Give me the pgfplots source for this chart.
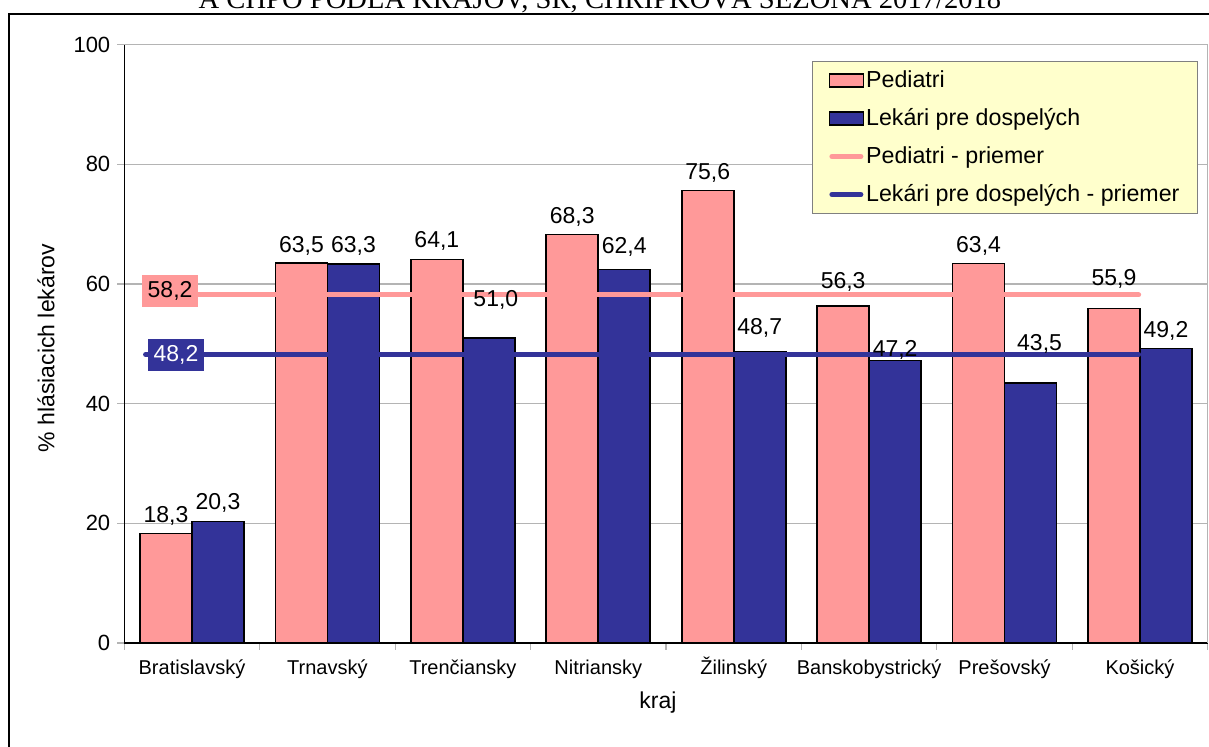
\documentclass[border=0pt]{standalone}
\usepackage{pgfplots}
\pgfplotsset{compat=1.18}
\usepackage{pgfplotstable}
\usepackage{fontspec}
\setmainfont{Liberation Sans}
\newfontfamily\titlefont{Liberation Serif}
\definecolor{pedc}{HTML}{FF9999}
\definecolor{dosc}{HTML}{333399}
\definecolor{legfill}{HTML}{FFFFCC}
\definecolor{gridc}{HTML}{B4B4B4}

\pgfplotstableread{
x y dy dx
0 18.3 5.4 -13
1 63.5 5.4 -13
2 64.1 5.9 -13
3 68.3 5.4 -13
4 75.6 5.4 -13
5 56.3 8.65 -13
6 63.4 5.65 -13
7 55.9 11.65 -13
}\pediatri
\pgfplotstableread{
x y dy dx
0 20.3 6.15 13
1 63.3 5.9 13
2 51.0 15.9 16.5
3 62.4 7.9 13
4 48.7 8.4 13
5 47.2 1.9 13
6 43.5 15.9 17.5
7 49.2 5.4 13
}\dospeli

\begin{document}
\begin{tikzpicture}
\useasboundingbox (0,0) rectangle (604.5pt,373.5pt);
\draw[line width=1pt] (4.5pt,-20pt) -- (4.5pt,366.5pt) -- (650pt,366.5pt);
\node[anchor=base, inner sep=0pt, font=\titlefont\fontsize{14.3}{16}\selectfont] at (300pt,369pt) {A CHPO PODĽA KRAJOV, SR, CHRIPKOVÁ SEZÓNA 2017/2018};
\begin{axis}[
  at={(62.15pt,52pt)}, anchor=south west,
  width=541.7pt, height=299.15pt, scale only axis,
  xmin=-0.5, xmax=7.5, ymin=0, ymax=100,
  clip=false,
  axis x line=bottom, axis y line=left,
  axis line style={-, black, line width=0.75pt},
  ytick={0,20,...,100},
  ymajorgrids, grid style={gridc, line width=0.6pt},
  tick style={gridc, line width=0.6pt},
  tick align=outside,
  major tick length=3.5pt,
  xtick={-0.5,0.5,...,7.5},
  xticklabels={Bratislavský,Trnavský,Trenčiansky,Nitriansky,Žilinský,Banskobystrický,Prešovský,Košický,{}},
  xticklabel style={font=\fontsize{10}{12}\selectfont, xshift=33.85pt, text height=8pt, text depth=2.5pt, yshift=-0.8pt},
  yticklabel style={font=\fontsize{11}{13}\selectfont},
  /pgf/number format/assume math mode=true,
  /pgf/number format/use comma,
  ylabel={\% hlásiacich lekárov},
  ylabel style={at={(axis description cs:-0.0723,0.493)}, anchor=center, font=\fontsize{11.5}{14}\selectfont},
  xlabel={kraj},
  xlabel style={at={(axis description cs:0.4926,-0.1003)}, anchor=center, font=\fontsize{11.5}{14}\selectfont},
  legend style={at={(0.6348,0.9728)}, anchor=north west, draw=gray, line width=0.6pt, fill=legfill,
    inner xsep=8pt, inner ysep=0pt, row sep=0pt, column sep=0pt,
    font=\fontsize{11.6}{14}\selectfont,
    nodes={inner xsep=1pt, inner ysep=0pt, minimum height=19pt, anchor=west}},
  legend cell align=left,
]
\addplot[ybar, bar width=0.384, bar shift=-0.192, fill=pedc, draw=black, line width=0.8pt,
  point meta=y,
  nodes near coords,
  visualization depends on={\thisrow{dy} \as \labdy},
  visualization depends on={\thisrow{dx} \as \labdx},
  nodes near coords style={font=\fontsize{11.5}{14}\selectfont, text=black, anchor=base, yshift=\labdy pt, xshift=\labdx pt,
    /pgf/number format/fixed, /pgf/number format/fixed zerofill, /pgf/number format/precision=1, /pgf/number format/use comma},
  legend image code/.code={\draw[fill=pedc, draw=black, line width=0.75pt] (0pt,-3.25pt) rectangle (17pt,3.25pt);}
] table[x=x,y=y]{\pediatri};
\addlegendentry{Pediatri}
\addplot[ybar, bar width=0.384, bar shift=0.192, fill=dosc, draw=black, line width=0.8pt,
  point meta=y,
  nodes near coords,
  visualization depends on={\thisrow{dy} \as \labdy},
  visualization depends on={\thisrow{dx} \as \labdx},
  nodes near coords style={font=\fontsize{11.5}{14}\selectfont, text=black, anchor=base, yshift=\labdy pt, xshift=\labdx pt,
    /pgf/number format/fixed, /pgf/number format/fixed zerofill, /pgf/number format/precision=1, /pgf/number format/use comma},
  legend image code/.code={\draw[fill=dosc, draw=black, line width=0.75pt] (0pt,-3.25pt) rectangle (17pt,3.25pt);}
] table[x=x,y=y]{\dospeli};
\addlegendentry{Lekári pre dospelých}
\addplot[pedc, line width=2.5pt, line cap=round,
  legend image code/.code={\draw[pedc, line width=2.5pt, line cap=round] (1.25pt,0pt) -- (15.75pt,0pt);}]
  coordinates {(-0.343,58.2) (6.99,58.2)}
  node[pos=0.0247, yshift=1.75pt, fill=pedc, text=black, minimum width=28pt, minimum height=16pt, inner sep=0pt, font=\fontsize{11.5}{14}\selectfont] {58,2};
\addlegendentry{Pediatri - priemer}
\addplot[dosc, line width=2.5pt, line cap=round,
  legend image code/.code={\draw[dosc, line width=2.5pt, line cap=round] (1.25pt,0pt) -- (15.75pt,0pt);}]
  coordinates {(-0.343,48.2) (6.99,48.2)}
  node[pos=0.0307, fill=dosc, text=white, minimum width=28pt, minimum height=16pt, inner sep=0pt, font=\fontsize{11.5}{14}\selectfont] {48,2};
\addlegendentry{Lekári pre dospelých - priemer}
\draw[gridc, line width=0.6pt] (rel axis cs:1,0) -- (rel axis cs:1,1);
\end{axis}
\end{tikzpicture}
\end{document}
